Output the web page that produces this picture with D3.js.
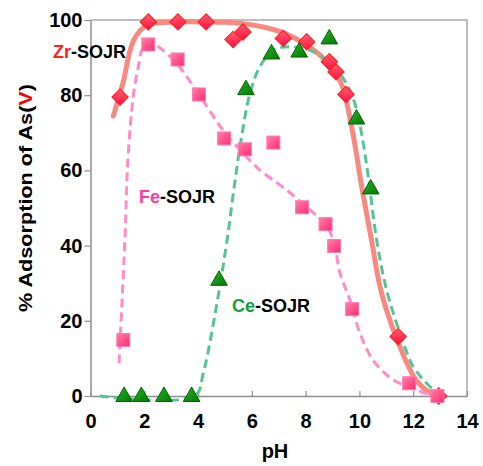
<!DOCTYPE html>
<html>
<head>
<meta charset="utf-8">
<script src="https://cdn.jsdelivr.net/npm/d3@7"></script>
<style>
  html, body { margin: 0; padding: 0; background: #fff; }
  text { font-family: "Liberation Sans", Arial, sans-serif; }
</style>
</head>
<body>
<div id="chart"></div>
<script>
// measured points [pH, % adsorption]
const zrPoints = [[1.1,79.5],[2.15,99.5],[3.25,99.5],[4.3,99.5],[5.3,94.8],[5.67,96.8],[7.17,95.1],[8.04,94.2],[8.88,88.9],[9.13,86.2],[9.5,80.2],[11.44,15.8],[12.95,0]];
const fePoints = [[1.22,14.9],[2.15,93.5],[3.24,89.5],[4.03,80.2],[4.97,68.5],[5.74,65.6],[6.8,67.4],[7.87,50.2],[8.74,45.7],[9.06,39.9],[9.73,23.1],[11.85,3.4],[12.9,0]];
const cePoints = [[1.25,0],[1.89,0],[2.73,0],[3.76,0],[4.78,30.9],[5.78,81.6],[6.73,91.1],[7.76,91.6],[8.88,95.1],[9.89,73.8],[10.42,55.2]];

// fitted trend curves
const zrCurve = [[0.85,74.5],[1.2,83],[1.6,94.5],[2.1,98.7],[3,99.4],[4,99.5],[5,99.4],[5.6,99.1],[6.5,98],[7.2,96.5],[8,93.5],[8.7,89.5],[9.3,83.5],[9.7,72],[10.1,55],[10.45,41.5],[10.8,28],[11.4,15],[12.1,4.3],[12.6,1],[13,0]];
const feCurve = [[1.06,8.7],[1.28,41.5],[1.39,62.8],[1.59,79.6],[1.78,87.6],[1.96,92.9],[2.2,94.3],[2.6,92.5],[3.2,88.5],[4,80.5],[4.93,70.7],[5.56,65.5],[6.3,60.1],[7.29,54.8],[8.16,49.5],[8.7,46],[9.03,41.5],[9.28,32.6],[9.65,25.5],[10.02,16.7],[10.5,9.6],[11.26,4.3],[12.13,1.6],[12.74,0]];
const ceCurve = [[0.35,0],[3.88,0],[4.19,6],[4.57,19.3],[5.08,41.5],[5.31,53.9],[5.56,66.3],[5.93,80.5],[6.3,87.6],[6.8,92],[7.42,92.9],[8.28,91.6],[9.03,87.6],[9.52,83.1],[9.83,77.8],[10.08,69.8],[10.33,58.3],[10.64,41.5],[11.01,28.2],[11.51,16.7],[12.0,7.8],[12.5,3.4],[12.99,0]];

const xTicks = [0, 2, 4, 6, 8, 10, 12, 14];
const yTicks = [0, 20, 40, 60, 80, 100];

const W = 483, H = 466;
const plot = { left: 90.5, right: 467, top: 20, bottom: 396 };

const svg = d3.select("#chart").append("svg")
    .attr("width", W).attr("height", H);

const x = d3.scaleLinear().domain([0, 14]).range([plot.left, plot.right]);
const y = d3.scaleLinear().domain([0, 100]).range([plot.bottom, plot.top]);

// gradients for the markers
const defs = svg.append("defs");
function grad(id, c1, c2) {
    const g = defs.append("linearGradient").attr("id", id)
        .attr("x1", 0).attr("y1", 0).attr("x2", 1).attr("y2", 1);
    g.append("stop").attr("offset", "0%").attr("stop-color", c1);
    g.append("stop").attr("offset", "100%").attr("stop-color", c2);
}
grad("gZr", "#ff6070", "#ff1040");
grad("gFe", "#ff80a8", "#ff2a70");
grad("gCe", "#30b030", "#007a00");

// frame (top / right) in light gray
svg.append("path")
    .attr("d", `M${plot.left},${plot.top}H${plot.right}V${plot.bottom}`)
    .attr("fill", "none").attr("stroke", "#a8a8a8").attr("stroke-width", 1.5);

// axes
const xAxis = svg.append("g")
    .attr("transform", `translate(0,${plot.bottom})`)
    .call(d3.axisBottom(x).tickValues(xTicks).tickSizeInner(-5).tickSizeOuter(0));
const yAxis = svg.append("g")
    .attr("transform", `translate(${plot.left},0)`)
    .call(d3.axisLeft(y).tickValues(yTicks).tickSizeInner(6).tickSizeOuter(0));

[xAxis, yAxis].forEach(a => {
    a.select(".domain").attr("stroke", "#8c8c8c").attr("stroke-width", 1.5);
    a.selectAll(".tick line").attr("stroke", "#8c8c8c").attr("stroke-width", 1.2);
    a.selectAll(".tick text")
        .attr("fill", "#000")
        .style("font-size", "20px")
        .style("font-weight", "bold")
        .style("font-family", "'Liberation Sans', Arial, sans-serif");
});
xAxis.selectAll(".tick text").attr("y", 18).attr("dy", "0.71em");
yAxis.selectAll(".tick text").attr("x", -8);

// curves
const line = d3.line()
    .x(d => x(d[0])).y(d => y(d[1]))
    .curve(d3.curveCatmullRom.alpha(0.5));

svg.append("path").datum(zrCurve)
    .attr("d", line).attr("fill", "none")
    .attr("stroke", "#f88880").attr("stroke-width", 5).attr("stroke-linecap", "round");
svg.append("path").datum(feCurve)
    .attr("d", line).attr("fill", "none")
    .attr("stroke", "#ff8cc8").attr("stroke-width", 3).attr("stroke-dasharray", "9,5");
svg.append("path").datum(ceCurve)
    .attr("d", line).attr("fill", "none")
    .attr("stroke", "#55c495").attr("stroke-width", 3).attr("stroke-dasharray", "9,5");

// markers
svg.append("g").selectAll("rect").data(zrPoints).join("rect")
    .attr("x", -5.8).attr("y", -5.8).attr("width", 11.6).attr("height", 11.6)
    .attr("transform", d => `translate(${x(d[0])},${y(d[1])}) rotate(45)`)
    .attr("fill", "url(#gZr)").attr("stroke", "#ff1a1a").attr("stroke-width", 1);

svg.append("g").selectAll("path").data(cePoints).join("path")
    .attr("d", "M0,-9L8.3,5.5L-8.3,5.5Z")
    .attr("transform", d => `translate(${x(d[0])},${y(d[1])})`)
    .attr("fill", "url(#gCe)").attr("stroke", "#006400").attr("stroke-width", 1);

svg.append("g").selectAll("rect").data(fePoints).join("rect")
    .attr("x", -6.5).attr("y", -6.5).attr("width", 13).attr("height", 13)
    .attr("transform", d => `translate(${x(d[0])},${y(d[1])})`)
    .attr("fill", "url(#gFe)").attr("stroke", "#ff7ab8").attr("stroke-width", 1);

// series labels
function label(px, py, head, color) {
    const t = svg.append("text").attr("x", px).attr("y", py)
        .style("font-size", "18px").style("font-weight", "bold");
    t.append("tspan").attr("fill", color).text(head);
    t.append("tspan").attr("fill", "#000").text("-SOJR");
}
label(53, 58, "Zr", "#ff2020");
label(139, 203, "Fe", "#ff3aa0");
label(232, 312, "Ce", "#10a030");

// axis titles
svg.append("text")
    .attr("x", 275).attr("y", 458).attr("text-anchor", "middle")
    .style("font-size", "20px").style("font-weight", "bold")
    .text("pH");

const yt = svg.append("text")
    .attr("transform", "translate(32,198) rotate(-90)")
    .attr("text-anchor", "middle")
    .attr("textLength", 228).attr("lengthAdjust", "spacingAndGlyphs")
    .style("font-size", "19px").style("font-weight", "bold");
yt.append("tspan").text("% Adsorption of As(");
yt.append("tspan").attr("fill", "#ff0000").text("V");
yt.append("tspan").text(")");
</script>
</body>
</html>
